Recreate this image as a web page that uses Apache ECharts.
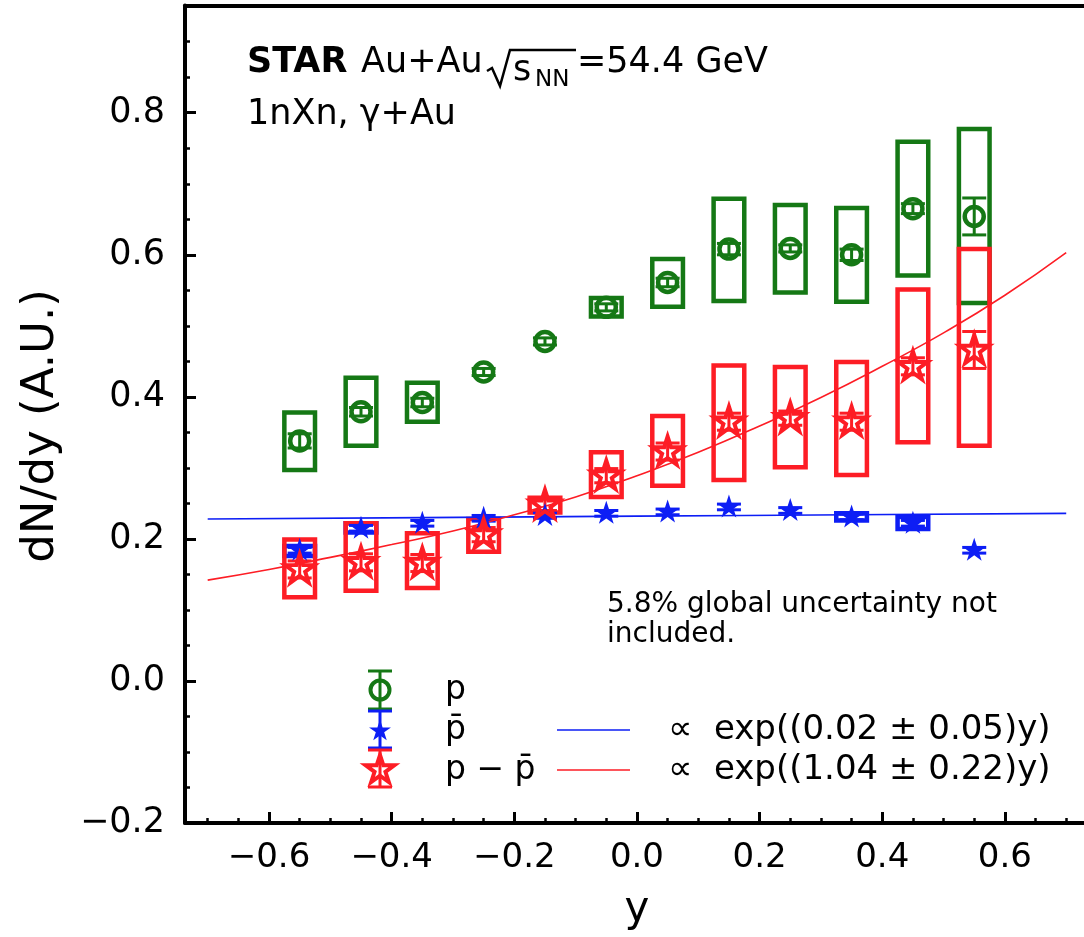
<!DOCTYPE html>
<html>
<head>
<meta charset="utf-8">
<script src="https://cdn.jsdelivr.net/npm/echarts@6/dist/echarts.min.js"></script>
<style>
html,body{margin:0;padding:0;background:#fff;}
#chart{width:1084px;height:937px;}
</style>
</head>
<body>
<div id="chart"></div>
<script>
// ---------------- data ----------------
const xs = [-0.55,-0.45,-0.35,-0.25,-0.15,-0.05,0.05,0.15,0.25,0.35,0.45,0.55];

// p (green circles)
const pVal   = [0.338,0.379,0.392,0.435,0.478,0.526,0.561,0.608,0.609,0.600,0.665,0.654];
const pStat  = [0.010,0.006,0.006,0.005,0.005,0.005,0.006,0.008,0.005,0.008,0.007,0.026];
const pSysLo = [0.297,0.331,0.365,null,null,0.513,0.527,0.535,0.547,0.534,0.571,0.532];
const pSysHi = [0.378,0.427,0.420,null,null,0.539,0.594,0.679,0.670,0.666,0.759,0.777];

// pbar (blue stars)
const pbarVal   = [0.184,0.215,0.222,0.229,0.233,0.236,0.238,0.245,0.240,0.231,0.222,0.184];
const pbarStat  = [0.004,0.004,0.004,0.004,0.004,0.004,0.004,0.004,0.004,0.004,0.004,0.004];
const pbarSysLo = [0.176,0.209,null,null,null,null,null,null,null,0.226,0.214,null];
const pbarSysHi = [0.190,0.222,null,null,null,null,null,null,null,0.236,0.231,null];

// p - pbar (red stars)
const diffVal   = [0.157,0.167,0.166,0.206,0.248,0.289,0.323,0.365,0.370,0.365,0.443,0.466];
const diffStat  = [0.012,0.012,0.012,0.010,0.008,0.010,0.012,0.012,0.010,0.012,0.012,0.026];
const diffSysLo = [0.118,0.127,0.131,0.182,0.237,0.259,0.275,0.283,0.301,0.290,0.336,0.331];
const diffSysHi = [0.199,0.222,0.208,0.228,0.258,0.322,0.373,0.444,0.442,0.449,0.551,0.608];

// fit curves
const fitBlueX = [-0.7,-0.35,0.0,0.35,0.7];
const fitBlueY = [0.228,0.230,0.232,0.234,0.236];
const fitRedX  = [-0.7,-0.6,-0.5,-0.4,-0.3,-0.2,-0.1,0.0,0.1,0.2,0.3,0.4,0.5,0.6,0.7];
const fitRedY  = [0.142,0.157,0.174,0.192,0.211,0.234,0.259,0.289,0.322,0.359,0.399,0.443,0.490,0.543,0.603];

// ticks
const xMajor = [-0.6,-0.4,-0.2,0.0,0.2,0.4,0.6];
const xMinor = [-0.7,-0.65,-0.55,-0.5,-0.45,-0.35,-0.3,-0.25,-0.15,-0.1,-0.05,0.05,0.1,0.15,0.25,0.3,0.35,0.45,0.5,0.55,0.65,0.7];
const yMajor = [-0.2,0.0,0.2,0.4,0.6,0.8];
const yMinor = [-0.15,-0.1,-0.05,0.05,0.1,0.15,0.25,0.3,0.35,0.45,0.5,0.55,0.65,0.7,0.75,0.85,0.9];

// ---------------- styling ----------------
const GREEN = '#157815';
const BLUE  = '#0d1ef5';
const RED   = '#fd1d25';
const FONT  = '"DejaVu Sans", "Liberation Sans", sans-serif';
const BOX_HALF = 0.025;   // half width of systematic boxes (data units)
const CAP = 12;           // errorbar cap half-width (px)
const X_MIN = -0.737, X_MAX = 0.729, Y_MIN = -0.2, Y_MAX = 0.951;

const STAR_PATH = 'path://M95.1 0 L72.65 69.1 L0 69.1 L58.8 111.8 L36.3 180.9 L95.1 138.2 L153.9 180.9 L131.4 111.8 L190.2 69.1 L117.55 69.1 Z';

function fmt(v){
  if (Math.abs(v) < 1e-9) return '0.0';
  return (v < 0 ? '\u2212' : '') + Math.abs(v).toFixed(1);
}
function boxData(lo, hi){
  const out = [];
  xs.forEach((x,i)=>{ if (lo[i] != null) out.push([x, lo[i], hi[i]]); });
  return out;
}
function errData(v, e){ return xs.map((x,i)=>[x, v[i]-e[i], v[i]+e[i]]); }
function pts(xArr, yArr){ return xArr.map((x,i)=>[x, yArr[i]]); }

function boxSeries(data, color){
  return {
    type:'custom', z:2, silent:true, clip:false,
    data: data,
    renderItem: function(params, api){
      const x = api.value(0), lo = api.value(1), hi = api.value(2);
      const a = api.coord([x-BOX_HALF, hi]);
      const b = api.coord([x+BOX_HALF, lo]);
      return {type:'rect', shape:{x:a[0], y:a[1], width:b[0]-a[0], height:b[1]-a[1]},
              style:{fill:'none', stroke:color, lineWidth:4.5}};
    }
  };
}
function errSeries(data, color){
  return {
    type:'custom', z:3, silent:true, clip:false,
    data: data,
    renderItem: function(params, api){
      const x = api.value(0);
      const a = api.coord([x, api.value(1)]);
      const b = api.coord([x, api.value(2)]);
      const st = {stroke:color, lineWidth:3};
      return {type:'group', children:[
        {type:'line', shape:{x1:a[0], y1:a[1], x2:b[0], y2:b[1]}, style:st},
        {type:'line', shape:{x1:a[0]-CAP, y1:a[1], x2:a[0]+CAP, y2:a[1]}, style:st},
        {type:'line', shape:{x1:b[0]-CAP, y1:b[1], x2:b[0]+CAP, y2:b[1]}, style:st}
      ]};
    }
  };
}

// legend helpers (pixel positions)
function starPoints(cx, cy, R){
  const r = R*0.382, p = [];
  for (let k=0;k<10;k++){
    const ang = (90 + 36*k) * Math.PI/180;
    const rr = (k%2===0) ? R : r;
    p.push([cx + rr*Math.cos(ang), cy - rr*Math.sin(ang)]);
  }
  return p;
}
function legErr(cx, y1, y2, color){
  const st = {stroke:color, lineWidth:3};
  return [
    {type:'line', z:10, shape:{x1:cx, y1:y1, x2:cx, y2:y2}, style:st},
    {type:'line', z:10, shape:{x1:cx-CAP, y1:y1, x2:cx+CAP, y2:y1}, style:st},
    {type:'line', z:10, shape:{x1:cx-CAP, y1:y2, x2:cx+CAP, y2:y2}, style:st}
  ];
}
function txt(x, y, s, size, opts){
  opts = opts || {};
  return {type:'text', z:10, x:x, y:y, rotation: opts.rotation || 0,
    style:{text:s, fill:'#000', fontSize:size, fontFamily:FONT, fontWeight: opts.bold ? 'bold' : 'normal',
           align: opts.align || 'left', verticalAlign: 'middle'}};
}

const graphics = [].concat(
  [
    txt(247, 63, 'STAR', 35, {bold:true}),
    txt(361, 63, 'Au+Au', 35),
    {type:'polyline', z:10, shape:{points:[[487,71],[492,68],[500,86],[510,50],[576,50]]},
     style:{stroke:'#000', lineWidth:2.5, fill:'none'}},
    txt(513, 71, 's', 35),
    txt(535, 80, 'NN', 23),
    txt(577, 63, '=54.4 GeV', 35),
    txt(247, 115, '1nXn, \u03B3+Au', 35),
    txt(607, 605, '5.8% global uncertainty not', 28),
    txt(607, 635, 'included.', 28),
    txt(41, 426, 'dN/dy (A.U.)', 45, {rotation: Math.PI/2, align:'center'}),
    txt(637, 910, 'y', 42, {align:'center'}),
    // legend
    txt(445, 690, 'p', 33),
    txt(445, 730, 'p\u0304', 33),
    txt(445, 770, 'p \u2212 p\u0304', 33),
    {type:'line', z:10, shape:{x1:557, y1:730, x2:630, y2:730}, style:{stroke:BLUE, lineWidth:1.6}},
    {type:'line', z:10, shape:{x1:557, y1:770, x2:630, y2:770}, style:{stroke:RED, lineWidth:1.6}},
    txt(668, 730, '\u221D  exp((0.02 \u00B1 0.05)y)', 34),
    txt(668, 770, '\u221D  exp((1.04 \u00B1 0.22)y)', 34)
  ],
  legErr(380, 671, 709, GREEN),
  [{type:'circle', z:11, shape:{cx:380, cy:690, r:9.5}, style:{fill:'none', stroke:GREEN, lineWidth:4}}],
  legErr(380, 711, 748, BLUE),
  [{type:'polygon', z:11, shape:{points:starPoints(380, 731, 11.5)}, style:{fill:BLUE}}],
  legErr(380, 750, 787, RED),
  [{type:'polygon', z:11, shape:{points:starPoints(380, 770, 15)}, style:{fill:'none', stroke:RED, lineWidth:4}}]
);

const chart = echarts.init(document.getElementById('chart'), null, {renderer:'canvas'});
const option = {
  animation:false,
  backgroundColor:'#fff',
  textStyle:{fontFamily:FONT},
  grid:{left:185, right:0, top:5.5, bottom:114, containLabel:false},
  xAxis:[
    {type:'value', min:X_MIN, max:X_MAX, position:'bottom',
     axisLine:{show:true, onZero:false, lineStyle:{color:'#000', width:4}},
     axisTick:{show:true, inside:true, length:11, customValues:xMajor, lineStyle:{color:'#000', width:3}},
     axisLabel:{show:true, customValues:xMajor, formatter:fmt, fontSize:34, color:'#000', margin:18, fontFamily:FONT},
     splitLine:{show:false}},
    {type:'value', min:X_MIN, max:X_MAX, position:'bottom',
     axisLine:{show:false, onZero:false},
     axisTick:{show:true, inside:true, length:5, customValues:xMinor, lineStyle:{color:'#000', width:2.5}},
     axisLabel:{show:false}, splitLine:{show:false}},
    {type:'value', min:X_MIN, max:X_MAX, position:'top',
     axisLine:{show:true, onZero:false, lineStyle:{color:'#000', width:4}},
     axisTick:{show:false}, axisLabel:{show:false}, splitLine:{show:false}}
  ],
  yAxis:[
    {type:'value', min:Y_MIN, max:Y_MAX, position:'left',
     axisLine:{show:true, onZero:false, lineStyle:{color:'#000', width:4}},
     axisTick:{show:true, inside:true, length:11, customValues:yMajor, lineStyle:{color:'#000', width:3}},
     axisLabel:{show:true, customValues:yMajor, formatter:fmt, fontSize:35, color:'#000', margin:20, fontFamily:FONT},
     splitLine:{show:false}},
    {type:'value', min:Y_MIN, max:Y_MAX, position:'left',
     axisLine:{show:false, onZero:false},
     axisTick:{show:true, inside:true, length:5, customValues:yMinor, lineStyle:{color:'#000', width:2.5}},
     axisLabel:{show:false}, splitLine:{show:false}}
  ],
  series:[
    boxSeries(boxData(pSysLo, pSysHi), GREEN),
    errSeries(errData(pVal, pStat), GREEN),
    {type:'scatter', z:4, silent:true, data:pts(xs, pVal), symbol:'circle', symbolSize:19,
     itemStyle:{color:'rgba(255,255,255,0)', borderColor:GREEN, borderWidth:4.5, opacity:1}},
    boxSeries(boxData(pbarSysLo, pbarSysHi), BLUE),
    errSeries(errData(pbarVal, pbarStat), BLUE),
    {type:'scatter', z:4, silent:true, data:pts(xs, pbarVal), symbol:STAR_PATH, symbolSize:[24,23], symbolOffset:[0,-1],
     itemStyle:{color:BLUE, opacity:1}},
    boxSeries(boxData(diffSysLo, diffSysHi), RED),
    errSeries(errData(diffVal, diffStat), RED),
    {type:'scatter', z:4, silent:true, data:pts(xs, diffVal), symbol:STAR_PATH, symbolSize:[29,28], symbolOffset:[0,-1],
     itemStyle:{color:'rgba(255,255,255,0)', borderColor:RED, borderWidth:4, opacity:1}},
    {type:'line', z:3, silent:true, data:pts(fitBlueX, fitBlueY), showSymbol:false, smooth:true,
     lineStyle:{color:BLUE, width:1.6}},
    {type:'line', z:3, silent:true, data:pts(fitRedX, fitRedY), showSymbol:false, smooth:true,
     lineStyle:{color:RED, width:1.6}}
  ],
  graphic: graphics
};
chart.setOption(option);
</script>
</body>
</html>
